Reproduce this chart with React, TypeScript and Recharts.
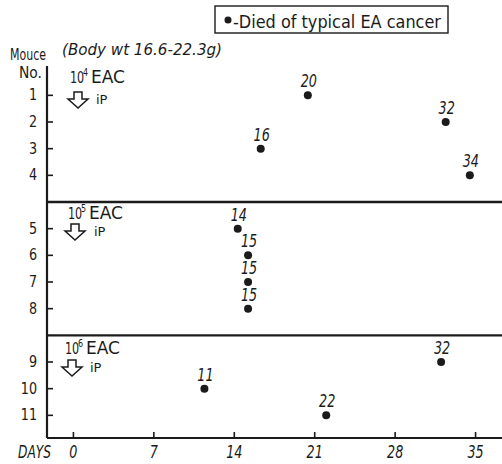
import { ScatterChart, Scatter, XAxis, YAxis, ReferenceLine } from 'recharts'

// mouse number, group (0: 10^4, 1: 10^5, 2: 10^6 EAC ip), printed day of death, plotted day
const mice = [1, 2, 3, 4, 5, 6, 7, 8, 9, 10, 11]
const mouseGroup = [0, 0, 0, 0, 1, 1, 1, 1, 2, 2, 2]
const deathDay = [20, 32, 16, 34, 14, 15, 15, 15, 32, 11, 22]
const plotDay = [20.4, 32.4, 16.3, 34.5, 14.3, 15.2, 15.2, 15.2, 32.0, 11.4, 22.0]
const doseExp = [4, 5, 6]
const dayTicks = [0, 7, 14, 21, 28, 35]

const INK = '#1b1b1b'
const FONT = "'DejaVu Sans', sans-serif"

// one blank row between the three dose groups
const rowPos = mice.map((m, i) => m + mouseGroup[i])
const separators = doseExp.slice(1).map((_, g) => rowPos[mouseGroup.indexOf(g + 1)] - 1)

const points = mice.map((m, i) => ({
  mouse: m,
  row: rowPos[i],
  day: plotDay[i],
  label: deathDay[i],
}))

function Txt({ x, y, size, sx = 0.8, italic = false, anchor = 'start', children }: any) {
  return (
    <text
      transform={`translate(${x},${y}) scale(${sx},1)`}
      fontSize={size}
      fontFamily={FONT}
      fontStyle={italic ? 'italic' : 'normal'}
      textAnchor={anchor}
      fill={INK}
    >
      {children}
    </text>
  )
}

function YTick({ x, y, payload }: any) {
  const idx = rowPos.indexOf(payload.value)
  return (
    <g>
      <line x1={x} x2={x + 6} y1={y} y2={y} stroke={INK} strokeWidth={1.6} />
      <Txt x={x - 10} y={y + 5} size={15} sx={0.85} anchor="end">
        {mice[idx]}
      </Txt>
    </g>
  )
}

function XTick({ x, y, payload }: any) {
  return (
    <g>
      <line x1={x} x2={x} y1={y - 6} y2={y} stroke={INK} strokeWidth={1.6} />
      <Txt x={x} y={y + 20} size={17} sx={0.75} italic anchor="middle">
        {payload.value}
      </Txt>
    </g>
  )
}

function Dot({ cx, cy, payload }: any) {
  return (
    <g>
      <circle cx={cx} cy={cy} r={4} fill={INK} />
      <Txt x={cx + 1} y={cy - 8} size={17} sx={0.75} italic anchor="middle">
        {payload.label}
      </Txt>
    </g>
  )
}

function Arrow({ cx, top }: { cx: number; top: number }) {
  const d = `M${cx - 4},${top} H${cx + 4} V${top + 7} H${cx + 10} L${cx},${top + 16} L${cx - 10},${top + 7} H${cx - 4} Z`
  return <path d={d} fill="#fff" stroke={INK} strokeWidth={1.5} strokeLinejoin="miter" />
}

function DoseNote({ exp, x, y, ax, atop, ix }: any) {
  return (
    <g>
      <Txt x={x} y={y} size={16} sx={0.7}>10</Txt>
      <Txt x={x + 13} y={y - 7} size={10} sx={0.8}>{exp}</Txt>
      <text x={x + 21} y={y} fontSize={17} fontFamily={FONT} fill={INK} textLength={34} lengthAdjust="spacingAndGlyphs">
        EAC
      </text>
      <Arrow cx={ax} top={atop} />
      <text x={ix} y={atop + 12} fontSize={13} fontFamily={FONT} fill={INK}>iP</text>
    </g>
  )
}

export default function App() {
  return (
    <div style={{ position: 'absolute', left: 0, top: 0, width: 502, height: 464, background: '#fff' }}>
      <ScatterChart width={502} height={464} margin={{ top: 66, right: 0, bottom: 0, left: 0 }}>
        <XAxis
          type="number"
          dataKey="day"
          domain={[-2.3, 37.3]}
          ticks={dayTicks}
          allowDataOverflow
          height={26}
          tickSize={0}
          tickMargin={0}
          tickLine={false}
          axisLine={{ stroke: INK, strokeWidth: 2.2 }}
          tick={<XTick />}
        />
        <YAxis
          type="number"
          dataKey="row"
          domain={[-0.1, 13.85]}
          reversed
          ticks={rowPos}
          allowDataOverflow
          width={47}
          tickSize={0}
          tickMargin={0}
          tickLine={false}
          axisLine={{ stroke: INK, strokeWidth: 2.2 }}
          tick={<YTick />}
        />
        {separators.map((s) => (
          <ReferenceLine key={s} y={s} stroke={INK} strokeWidth={2.4} />
        ))}
        <Scatter data={points} shape={<Dot />} isAnimationActive={false} />
      </ScatterChart>
      <svg width={502} height={464} style={{ position: 'absolute', left: 0, top: 0, pointerEvents: 'none' }}>
        <rect x={215} y={6} width={233} height={27} fill="none" stroke={INK} strokeWidth={1.4} />
        <circle cx={228} cy={20} r={3.5} fill={INK} />
        <text x={233} y={28} fontSize={17} fontFamily={FONT} fill={INK} textLength={208} lengthAdjust="spacingAndGlyphs">
          -Died of typical EA cancer
        </text>
        <text x={10} y={60} fontSize={15} fontFamily={FONT} fill={INK} textLength={36} lengthAdjust="spacingAndGlyphs">Mouce</text>
        <text x={19} y={78} fontSize={15} fontFamily={FONT} fill={INK} textLength={23} lengthAdjust="spacingAndGlyphs">No.</text>
        <text x={62} y={55} fontSize={16} fontFamily={FONT} fontStyle="italic" fill={INK} textLength={160} lengthAdjust="spacingAndGlyphs">
          (Body wt 16.6-22.3g)
        </text>
        <DoseNote exp={doseExp[0]} x={70} y={83} ax={78} atop={92} ix={96} />
        <DoseNote exp={doseExp[1]} x={68} y={219} ax={75} atop={224} ix={94} />
        <DoseNote exp={doseExp[2]} x={65} y={354} ax={72} atop={360} ix={90} />
        <Txt x={18} y={458} size={17} sx={0.72} italic>DAYS</Txt>
      </svg>
    </div>
  )
}
